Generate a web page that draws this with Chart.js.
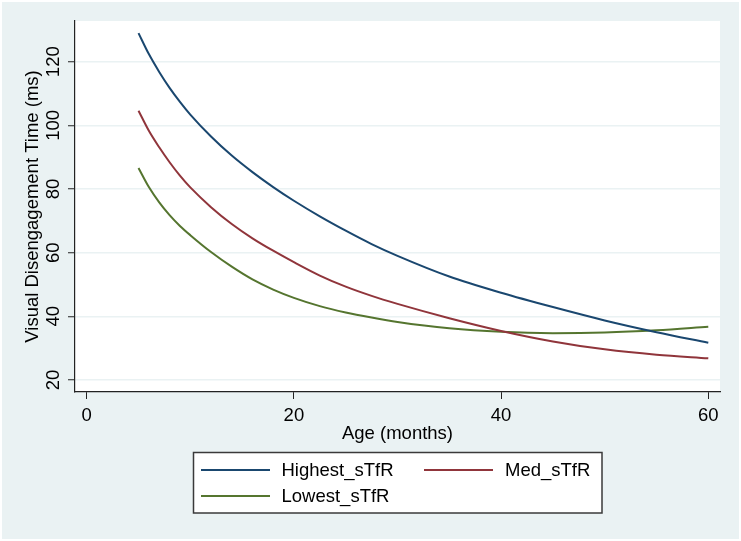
<!DOCTYPE html>
<html>
<head>
<meta charset="utf-8">
<script src="https://cdn.jsdelivr.net/npm/chart.js@4/dist/chart.umd.min.js"></script>
<style>
  html, body { margin: 0; padding: 0; background: #ffffff; }
  #wrap { width: 741px; height: 541px; }
</style>
</head>
<body>
<div id="wrap"><canvas id="c" width="741" height="541"></canvas></div>
<script>
// ---- data ----
const ages = [5, 6, 7, 8, 9, 10, 12, 14, 16, 18, 20, 22.5, 25, 27.5, 30, 35, 40, 45, 50, 55, 60];
const highest = [129, 122.4, 116.8, 111.8, 107.4, 103.4, 96.5, 90.5, 85.3, 80.6, 76.3, 71.4, 66.9, 62.7, 59.0, 52.5, 47.4, 42.9, 38.7, 35.0, 31.7];
const med = [104.6, 98.3, 93.1, 88.4, 84.2, 80.5, 74.3, 69.0, 64.5, 60.6, 57.0, 52.8, 49.3, 46.4, 43.9, 39.4, 35.4, 32.1, 29.6, 27.9, 26.8];
const lowest = [86.6, 80.6, 75.8, 71.8, 68.4, 65.5, 60.2, 55.6, 51.6, 48.4, 45.8, 43.2, 41.2, 39.6, 38.2, 36.2, 35.1, 34.7, 34.9, 35.6, 36.7];
const seriesNames = ["Highest_sTfR", "Med_sTfR", "Lowest_sTfR"];
const xTicks = [0, 20, 40, 60];
const yTicks = [20, 40, 60, 80, 100, 120];
const xTitle = "Age (months)";
const yTitle = "Visual Disengagement Time (ms)";

const colors = ["#1a476f", "#90353b", "#55752f"];
const FONT = "Liberation Sans, Arial, Helvetica, sans-serif";
const FS = 18.5;

function pts(ys) { return ages.map((a, i) => ({ x: a, y: ys[i] })); }

const bgPlugin = {
  id: 'bg',
  beforeDraw(chart) {
    const { ctx, chartArea: ca } = chart;
    ctx.save();
    ctx.fillStyle = '#ffffff';
    ctx.fillRect(0, 0, chart.width, chart.height);
    ctx.fillStyle = '#eaf2f3';
    ctx.fillRect(2, 2, chart.width - 4, chart.height - 4);
    ctx.fillStyle = '#ffffff';
    ctx.fillRect(ca.left, ca.top, ca.right - ca.left, ca.bottom - ca.top);
    ctx.restore();
  },
  afterDraw(chart) {
    const { ctx, chartArea: ca } = chart;
    const ys = chart.scales.y;
    ctx.save();
    ctx.fillStyle = '#000000';
    ctx.font = FS + 'px ' + FONT;
    ctx.textAlign = 'center';
    ctx.textBaseline = 'middle';
    // rotated y tick labels
    ys.ticks.forEach(t => {
      const py = ys.getPixelForValue(t.value);
      ctx.save();
      ctx.translate(54, py);
      ctx.rotate(-Math.PI / 2);
      ctx.fillText(String(t.value), 0, 0);
      ctx.restore();
    });
    // y title
    ctx.save();
    ctx.translate(33, (ca.top + ca.bottom) / 2);
    ctx.rotate(-Math.PI / 2);
    ctx.fillText(yTitle, 0, 0);
    ctx.restore();
    // x title
    ctx.fillText(xTitle, (ca.left + ca.right) / 2, 434);

    // legend
    const bx = 193.5, by = 452.5, bw = 408.5, bh = 60.5;
    ctx.fillStyle = '#ffffff';
    ctx.fillRect(bx, by, bw, bh);
    ctx.strokeStyle = '#3a3a3a';
    ctx.lineWidth = 1.5;
    ctx.strokeRect(bx, by, bw, bh);
    const entries = [
      { i: 0, lx: 201, tx: 281.5, y: 470 },
      { i: 1, lx: 424, tx: 505, y: 470 },
      { i: 2, lx: 201, tx: 281.5, y: 496 }
    ];
    entries.forEach(e => {
      const ds = chart.data.datasets[e.i];
      ctx.strokeStyle = ds.borderColor;
      ctx.lineWidth = 2;
      ctx.beginPath();
      ctx.moveTo(e.lx, e.y);
      ctx.lineTo(e.lx + 69, e.y);
      ctx.stroke();
      ctx.fillStyle = '#000000';
      ctx.textAlign = 'left';
      ctx.fillText(ds.label, e.tx, e.y + 1);
    });
    ctx.restore();
  }
};

new Chart(document.getElementById('c'), {
  type: 'line',
  data: {
    datasets: [
      { label: seriesNames[0], data: pts(highest), borderColor: colors[0] },
      { label: seriesNames[1], data: pts(med), borderColor: colors[1] },
      { label: seriesNames[2], data: pts(lowest), borderColor: colors[2] }
    ].map(d => Object.assign(d, { borderWidth: 2, pointRadius: 0, fill: false, cubicInterpolationMode: 'monotone' }))
  },
  options: {
    responsive: false,
    animation: false,
    devicePixelRatio: 1,
    layout: { padding: { left: 0, right: 21, top: 21, bottom: 0 } },
    plugins: { legend: { display: false }, tooltip: { enabled: false } },
    scales: {
      x: {
        type: 'linear',
        min: -1.13, max: 61.13,
        afterBuildTicks: s => { s.ticks = xTicks.map(v => ({ value: v })); },
        afterFit: s => { s.height = 149; },
        grid: { display: true, color: 'rgba(0,0,0,0)', tickColor: '#222', tickLength: 7, tickWidth: 1 },
        border: { display: true, color: '#222', width: 1.2 },
        ticks: { color: '#000', font: { family: FONT, size: FS }, padding: 6, maxRotation: 0, autoSkip: false }
      },
      y: {
        type: 'linear',
        min: 16.2, max: 132.8,
        afterBuildTicks: s => { s.ticks = yTicks.map(v => ({ value: v })); },
        afterFit: s => { s.width = 75; },
        grid: { display: true, color: '#eaf2f3', lineWidth: 1.5, tickColor: '#222', tickLength: 7, tickWidth: 1 },
        border: { display: true, color: '#222', width: 1.2 },
        ticks: { display: false }
      }
    }
  },
  plugins: [bgPlugin]
});
</script>
</body>
</html>
